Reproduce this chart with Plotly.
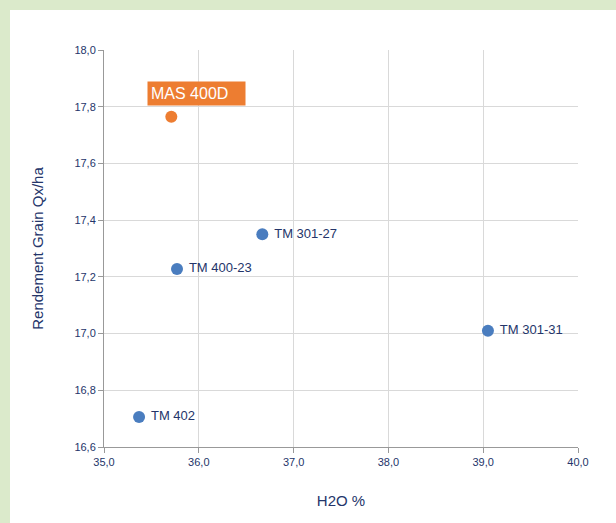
import plotly.graph_objects as go

names = ["TM 301-27", "TM 400-23", "TM 301-31", "TM 402"]
h2o = [36.67, 35.77, 39.05, 35.37]
rendement = [17.35, 17.228, 17.01, 16.706]

hl_name = "MAS 400D"
hl_h2o = [35.71]
hl_rend = [17.765]

x_ticks = [35, 36, 37, 38, 39, 40]
x_labels = ["35,0", "36,0", "37,0", "38,0", "39,0", "40,0"]
y_ticks = [16.6, 16.8, 17.0, 17.2, 17.4, 17.6, 17.8, 18.0]
y_labels = ["16,6", "16,8", "17,0", "17,2", "17,4", "17,6", "17,8", "18,0"]

navy = "#24356a"
narrow = "Liberation Sans Narrow, Arial Narrow, Liberation Sans, Arial"
fig = go.Figure()
fig.add_trace(go.Scatter(
    x=h2o, y=rendement, mode="markers+text", text=names,
    texttemplate=" %{text}",
    textposition="middle right",
    textfont=dict(family=narrow, size=13, color=navy),
    marker=dict(color="#4a7dbf", size=12, line=dict(width=0)),
    hoverinfo="x+y+text", showlegend=False,
))
fig.add_trace(go.Scatter(
    x=hl_h2o, y=hl_rend, mode="markers",
    marker=dict(color="#ed7d31", size=12, line=dict(width=0)),
    showlegend=False,
))
fig.add_annotation(
    x=hl_h2o[0], y=hl_rend[0], text=hl_name, showarrow=False,
    xshift=25, yshift=23, bgcolor="#ed7d31", width=91, align="left",
    font=dict(family=narrow, size=16, color="white"),
    borderpad=3,
)

L, R, T, B = 104, 38, 50, 76
W, H = 616, 523
pw, ph = W - L - R, H - T - B
fig.add_shape(type="rect", xref="paper", yref="paper", layer="below",
              x0=(10 - L) / pw, x1=(W + 5 - L) / pw,
              y0=(H - B - (H + 5)) / ph, y1=(H - B - 10) / ph,
              fillcolor="white", line=dict(width=0))

fig.update_layout(
    width=W, height=H,
    margin=dict(l=L, r=R, t=T, b=B),
    paper_bgcolor="#dbeacb", plot_bgcolor="rgba(0,0,0,0)",
    font=dict(family="Liberation Sans, Arial", color=navy),
    xaxis=dict(range=[35, 40], tickvals=x_ticks, ticktext=x_labels,
               showgrid=True, gridcolor="#d9d9d9", gridwidth=1,
               showline=True, linecolor="#999999", linewidth=1,
               ticks="outside", ticklen=5, tickcolor="#999999",
               tickfont=dict(family=narrow, size=11, color=navy),
               title=dict(text="H2O %", font=dict(size=15, color=navy), standoff=28),
               zeroline=False),
    yaxis=dict(range=[16.6, 18.0], tickvals=y_ticks, ticktext=y_labels,
               showgrid=True, gridcolor="#d9d9d9", gridwidth=1,
               showline=True, linecolor="#999999", linewidth=1,
               ticks="outside", ticklen=5, tickcolor="#999999",
               tickfont=dict(family=narrow, size=11, color=navy),
               title=dict(text="Rendement Grain Qx/ha", font=dict(size=15, color=navy), standoff=27),
               zeroline=False),
)
fig.write_html("out.html", config={"displayModeBar": False},
               post_script="document.body.style.margin='0';document.body.style.background='#dbeacb';")
